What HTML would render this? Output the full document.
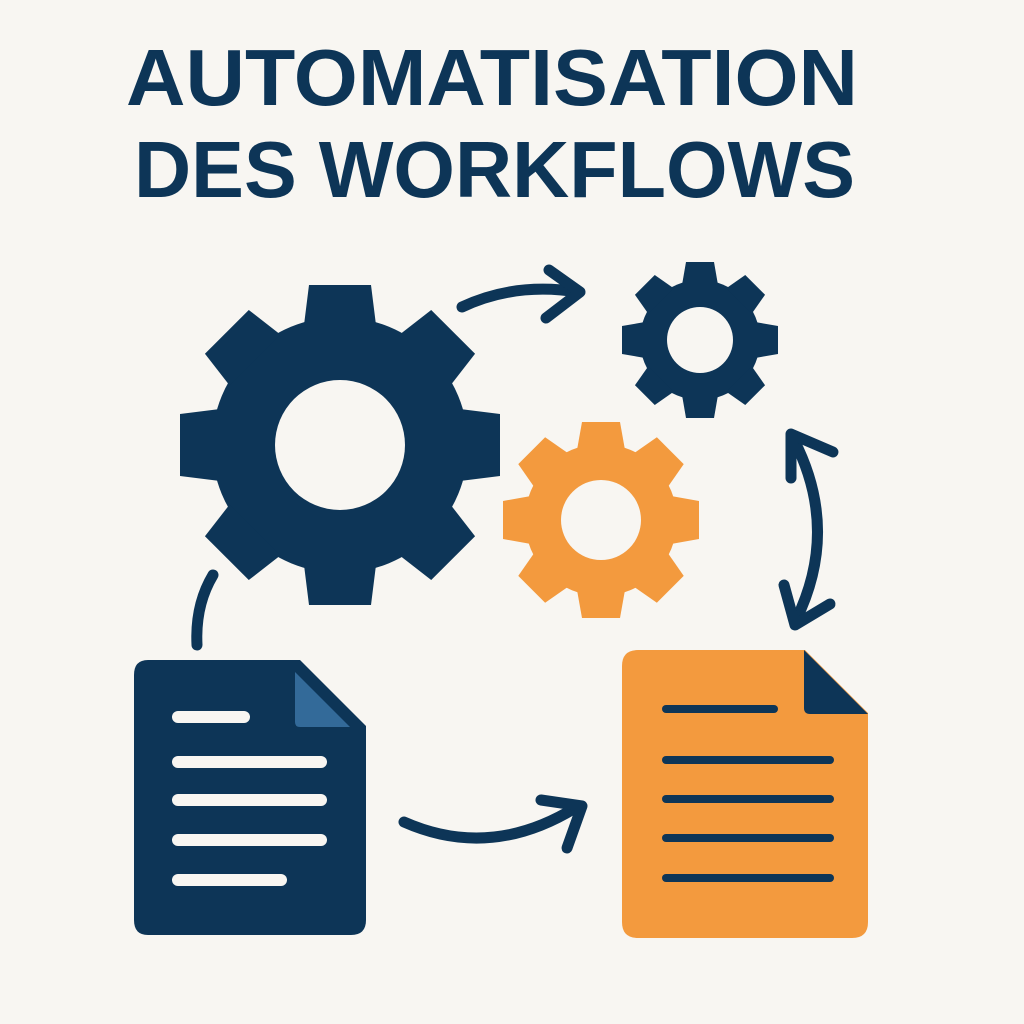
<!DOCTYPE html>
<html><head><meta charset="utf-8"><style>
html,body{margin:0;padding:0;background:#f8f6f2;}
svg{display:block}
</style></head><body>
<svg width="1024" height="1024" viewBox="0 0 1024 1024" xmlns="http://www.w3.org/2000/svg">
<rect width="1024" height="1024" fill="#f8f6f2"/>
<g font-family="'Liberation Sans', sans-serif" font-weight="bold" fill="#0d3557" font-size="80">
<text x="126" y="105" textLength="732" lengthAdjust="spacingAndGlyphs">AUTOMATISATION</text>
<text x="134" y="197" textLength="721" lengthAdjust="spacingAndGlyphs">DES WORKFLOWS</text>
</g>
<defs>
<polygon id="tb" points="-36,-120 36,-120 31,-160 -31,-160"/>
<polygon id="ts" points="-18,-55 18,-55 14,-78 -14,-78"/>
<polygon id="to" points="-24,-70 24,-70 19,-98 -19,-98"/>
</defs>
<!-- big gear -->
<g transform="translate(340,445)" fill="#0d3557">
<circle r="128"/>
<use href="#tb"/><use href="#tb" transform="rotate(45)"/><use href="#tb" transform="rotate(90)"/><use href="#tb" transform="rotate(135)"/>
<use href="#tb" transform="rotate(180)"/><use href="#tb" transform="rotate(225)"/><use href="#tb" transform="rotate(270)"/><use href="#tb" transform="rotate(315)"/>
<circle r="65" fill="#f8f6f2"/>
</g>
<!-- small navy gear -->
<g transform="translate(700,340)" fill="#0d3557">
<circle r="60"/>
<use href="#ts"/><use href="#ts" transform="rotate(45)"/><use href="#ts" transform="rotate(90)"/><use href="#ts" transform="rotate(135)"/>
<use href="#ts" transform="rotate(180)"/><use href="#ts" transform="rotate(225)"/><use href="#ts" transform="rotate(270)"/><use href="#ts" transform="rotate(315)"/>
<circle r="33" fill="#f8f6f2"/>
</g>
<!-- orange gear -->
<g transform="translate(601,520)" fill="#f39a3e">
<circle r="76"/>
<use href="#to"/><use href="#to" transform="rotate(45)"/><use href="#to" transform="rotate(90)"/><use href="#to" transform="rotate(135)"/>
<use href="#to" transform="rotate(180)"/><use href="#to" transform="rotate(225)"/><use href="#to" transform="rotate(270)"/><use href="#to" transform="rotate(315)"/>
<circle r="40" fill="#f8f6f2"/>
</g>
<!-- arrows -->
<g fill="none" stroke="#0d3557" stroke-width="11" stroke-linecap="round" stroke-linejoin="round">
<path d="M462,307 Q515,282 578,292"/>
<path d="M549,270 L580,292 L546,318"/>
<path d="M213,575 Q195,605 197,645"/>
<path d="M404,822 Q490,860 575,808"/>
<path d="M541,800 L582,806 L567,848"/>
<path d="M794,440 Q840,530 796,620"/>
<path d="M791,478 L791,434 L833,452"/>
<path d="M784,585 L795,625 L830,604"/>
</g>
<!-- left doc -->
<path d="M148,660 L300,660 L366,726 L366,920 Q366,935 351,935 L148,935 Q134,935 134,920 L134,675 Q134,660 148,660 Z" fill="#0d3557"/>
<path d="M295,672 L350,727 L300,727 Q295,727 295,722 Z" fill="#336a99"/>
<g stroke="#f8f6f2" stroke-width="12" stroke-linecap="round">
<line x1="178" y1="717" x2="244" y2="717"/>
<line x1="178" y1="762" x2="321" y2="762"/>
<line x1="178" y1="800" x2="321" y2="800"/>
<line x1="178" y1="840" x2="321" y2="840"/>
<line x1="178" y1="880" x2="281" y2="880"/>
</g>
<!-- right doc -->
<path d="M638,650 L805,650 L868,713 L868,922 Q868,938 852,938 L638,938 Q622,938 622,922 L622,666 Q622,650 638,650 Z" fill="#f39a3e"/>
<path d="M804,650 L868,714 L810,714 Q804,714 804,708 Z" fill="#0d3557"/>
<g stroke="#0d3557" stroke-width="8" stroke-linecap="round">
<line x1="666" y1="709" x2="774" y2="709"/>
<line x1="666" y1="760" x2="830" y2="760"/>
<line x1="666" y1="799" x2="830" y2="799"/>
<line x1="666" y1="838" x2="830" y2="838"/>
<line x1="666" y1="878" x2="830" y2="878"/>
</g>
</svg>
</body></html>
